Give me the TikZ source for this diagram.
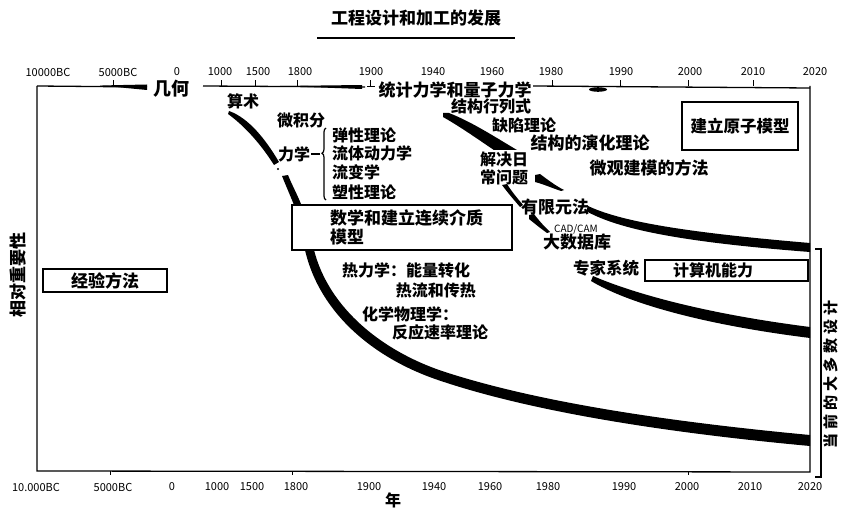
\documentclass[tikz,border=0pt]{standalone}
\usepackage{fontspec}
\setmainfont{Noto Sans CJK SC}
\usetikzlibrary{decorations.pathreplacing}
\tikzset{
  lbl/.style={inner sep=0pt, font=\fontsize{16}{16}\selectfont\bfseries},
  big/.style={inner sep=0pt, font=\fontsize{17}{17}\selectfont\bfseries},
  tick/.style={inner sep=0pt, font=\fontsize{11}{11}\selectfont},
  boxed/.style={draw, line width=1.4pt, fill=white, inner sep=0pt},
  band/.style={fill=black, draw=none},
  axis/.style={line width=1.3pt},
  tk/.style={line width=1pt},
}
\newcommand\cjkcell[1]{\makebox[19pt]{#1}}
\begin{document}
\begin{tikzpicture}[x=1pt,y=-1pt]
\useasboundingbox (0,0) rectangle (841,508);

% ---------- title ----------
\node[big] (title) at (416,18) {工程设计和加工的发展};
\draw[line width=2pt] (317,38) -- (515,38);

% ---------- frame / axes ----------
\coordinate (tl) at (37,86);
\coordinate (bl) at (37,471);
\coordinate (br) at (810,472);
\coordinate (tr) at (810,88);
\draw[axis] (tl) -- (bl) -- (br) -- (810,86);
% top axis pieces
\draw[axis] (tl) -- (147,87);
\fill (100,85.5) -- (147,84.5) -- (147,90) -- cycle;
\draw[axis] (203,86) -- (365,87);
\fill (280,86) -- (362,85) -- (362,89) -- cycle;
\draw[tk] (367,87) -- (375,87);
\draw[axis] (533,86) -- (tr);
\fill (598,89.5) ellipse (9pt and 2.3pt);
% top ticks
\foreach \x in {113,221,255,297,370,552,620,688,753}
  \draw[tk] (\x,86) -- (\x,80);
% bottom ticks
\foreach \x in {110,292,688}
  \draw[tk] (\x,471) -- (\x,475);

% top tick labels
\node[tick] (t1) at (48,72) {10000BC};
\node[tick] (t2) at (118,72) {5000BC};
\node[tick] (t3) at (177,72) {0};
\node[tick] (t4) at (220,72) {1000};
\node[tick] (t5) at (258,72) {1500};
\node[tick] (t6) at (300,72) {1800};
\node[tick] (t7) at (371,72) {1900};
\node[tick] (t8) at (433,72) {1940};
\node[tick] (t9) at (492,72) {1960};
\node[tick] (t10) at (551,72) {1980};
\node[tick] (t11) at (621,72) {1990};
\node[tick] (t12) at (690,72) {2000};
\node[tick] (t13) at (753,72) {2010};
\node[tick] (t14) at (815,72) {2020};
% bottom tick labels
\node[tick] (b1) at (36,487) {10.000BC};
\node[tick] (b2) at (113,487) {5000BC};
\node[tick] (b3) at (172,487) {0};
\node[tick] (b4) at (217,487) {1000};
\node[tick] (b5) at (252,487) {1500};
\node[tick] (b6) at (296,487) {1800};
\node[tick] (b7) at (369,487) {1900};
\node[tick] (b8) at (434,487) {1940};
\node[tick] (b9) at (490,487) {1960};
\node[tick] (b10) at (548,487) {1980};
\node[tick] (b11) at (624,487) {1990};
\node[tick] (b12) at (687,487) {2000};
\node[tick] (b13) at (750,487) {2010};
\node[tick] (b14) at (810,487) {2020};
\node[lbl] (nian) at (393,500) {年};

% axis titles
\node[big, rotate=90] (yl) at (18,275) {相对重要性};
\node[inner sep=0pt, rotate=90, font=\fontsize{15}{15}\selectfont\bfseries] (yr) at (831,374)
  {\cjkcell{当}\cjkcell{前}\cjkcell{的}\cjkcell{大}\cjkcell{多}\cjkcell{数}\cjkcell{设}\cjkcell{计}};
\draw[line width=1.1pt] (815,249) -- (821,249) -- (821,477) -- (815,477);

% ---------- bands ----------
% curve 1 (arithmetic -> calculus -> continuum)
\path[band] (229,111) .. controls (249,118) and (266,140) .. (279,162)
  -- (274,165) .. controls (262,146) and (246,127) .. (228,114) -- cycle;
\fill (278,169) circle (1.2pt);
\path[band] (282,176) -- (288,175) .. controls (292,185) and (297,194) .. (301,204)
  -- (294,205) .. controls (290,195) and (286,186) .. (282,176) -- cycle;
\path[band] (314,250) .. controls (329,309) and (383,351) .. (442,371)
  .. controls (542,404) and (682,423) .. (810,435)
  -- (810,446) .. controls (680,434) and (538,414) .. (438,380)
  .. controls (376,359) and (320,315) .. (305,250) -- cycle;
% curve 2 (structures -> finite elements)
\path[band] (443,113) -- (449,113) .. controls (472,122) and (495,137) .. (517,150)
  -- (512,162) .. controls (490,148) and (466,130) .. (443,117) -- cycle;
\path[band] (535,175) -- (540,174) .. controls (548,180) and (556,186) .. (564,190)
  -- (561,191) .. controls (552,188) and (543,184) .. (535,182) -- cycle;
\path[band] (588,206) .. controls (620,221) and (680,232) .. (810,243)
  -- (810,252) .. controls (680,242) and (618,229) .. (586,211) -- cycle;
% curve 3 (CAD/CAM -> expert systems)
\path[band] (502,185) -- (507,184) .. controls (512,192) and (518,199) .. (523,205)
  -- (520,207) .. controls (514,200) and (508,193) .. (502,185) -- cycle;
\path[band] (529,215) -- (534,214) .. controls (540,222) and (545,227) .. (550,232)
  -- (547,233) .. controls (540,228) and (534,223) .. (529,219) -- cycle;
\path[band] (593,276) .. controls (630,292) and (700,313) .. (810,327)
  -- (810,338) .. controls (698,324) and (626,302) .. (591,281) -- cycle;

% ---------- labels ----------
\node[inner sep=0pt, font=\fontsize{18}{18}\selectfont\bfseries] (jihe) at (171,89) {几何};
\node[big, fill=white, inner sep=1pt] (tongji) at (455,90) {统计力学和量子力学};
\node[lbl] (suanshu) at (243,101) {算术};
\node[lbl] (weijifen) at (301,120) {微积分};
\node[lbl] (lixue) at (294,154) {力学};
\draw[line width=1.3pt] ([xshift=1pt]lixue.east) -- ++(9,0) coordinate (dashend);
\draw[line width=1.2pt, decorate, decoration={brace, amplitude=4pt, aspect=0.65}] (326,200) -- (326,128);
\node[lbl, anchor=west] (tanxing) at (332,135) {弹性理论};
\node[lbl, anchor=west] (liuti) at (332,153) {流体动力学};
\node[lbl, anchor=west] (liubian) at (332,172) {流变学};
\node[lbl, anchor=west] (suxing) at (332,192) {塑性理论};

\node[boxed, minimum width=220pt, minimum height=45pt] (mbox) at (402,227.5) {};
\node[big, anchor=west] (m1) at (330,218) {数学和建立连续介质};
\node[big, anchor=west] (m2) at (330,237) {模型};

\node[boxed, minimum width=124pt, minimum height=23pt] (ebox) at (105,280.5) {};
\node[big] (jingyan) at (105,280.5) {经验方法};

\node[lbl, anchor=west] (re1) at (342,270) {热力学：能量转化};
\node[lbl, anchor=east] (re2) at (476,290) {热流和传热};
\node[lbl, anchor=west] (hua1) at (362,314) {化学物理学：};
\node[lbl, anchor=west] (hua2) at (392,332) {反应速率理论};

\node[lbl] (jiegou) at (491,106) {结构行列式};
\node[lbl] (quexian) at (524,125) {缺陷理论};
\node[big] (yanhua) at (590,143) {结构的演化理论};
\node[big] (weiguan) at (649,168) {微观建模的方法};
\node[boxed, minimum width=116pt, minimum height=48pt] (abox) at (740,126) {};
\node[inner sep=0pt, font=\fontsize{16.5}{16.5}\selectfont\bfseries] (yuanzi) at (740,126) {建立原子模型};

\node[lbl, anchor=west, fill=white, inner sep=1pt] (jj1) at (479,159) {解决日};
\node[lbl, anchor=west] (jj2) at (480,177) {常问题};
\node[big] (youxian) at (555,207) {有限元法};
\node[inner sep=0pt, font=\fontsize{10}{10}\selectfont] (cad) at (576,229) {CAD/CAM};
\node[big] (shuju) at (577,242) {大数据库};
\node[inner sep=0pt, font=\fontsize{16.5}{16.5}\selectfont\bfseries] (zhuanjia) at (606,268) {专家系统};
\node[boxed, minimum width=163pt, minimum height=21pt] (cbox) at (726.5,270.5) {};
\node[lbl] (jisuanji) at (713,270.5) {计算机能力};
\end{tikzpicture}
\end{document}
